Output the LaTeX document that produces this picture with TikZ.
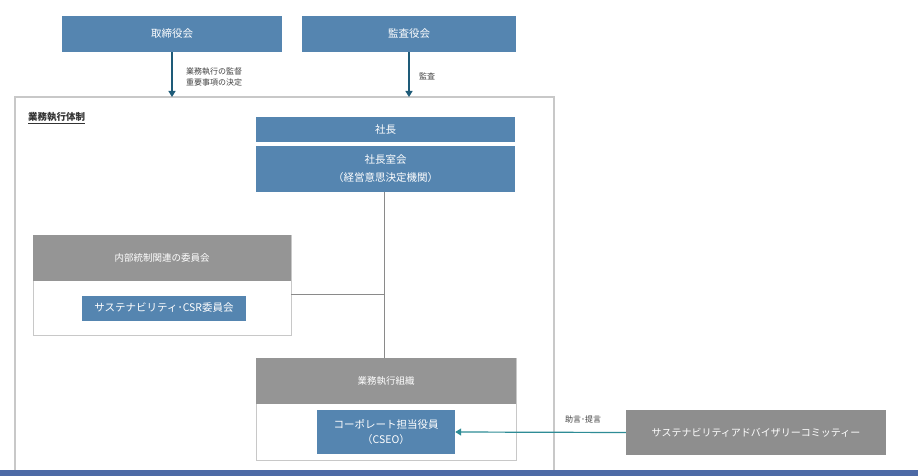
\documentclass[tikz,border=0pt]{standalone}
\usepackage{fontspec}
\setmainfont{Noto Sans CJK JP}
\usetikzlibrary{arrows.meta,positioning}
\definecolor{boxblue}{HTML}{5585B0}
\definecolor{boxgray}{HTML}{8E8E8E}
\definecolor{hdrgray}{HTML}{959595}
\definecolor{frameg}{HTML}{C8C8C8}
\definecolor{lineg}{HTML}{8A8A8A}
\definecolor{arrblue}{HTML}{1E5B78}
\definecolor{arrteal}{HTML}{2E8C96}
\definecolor{barblue}{HTML}{4D6AA6}
\tikzset{
  bluebox/.style={fill=boxblue, text=white, inner sep=0pt, font=\fontsize{10.5}{14}\selectfont, align=center},
  graybox/.style={fill=boxgray, text=white, inner sep=0pt, font=\fontsize{10}{13}\selectfont, align=center},
  hdrbox/.style={fill=hdrgray, text=white, inner sep=0pt, font=\fontsize{9.5}{12}\selectfont, align=center},
  grpbox/.style={draw=frameg, line width=1pt, fill=white, inner sep=0pt},
  smalllbl/.style={font=\fontsize{8}{11}\selectfont, text=black!75, align=left, inner sep=0pt, anchor=west},
  arrtop/.style={draw=arrblue, line width=1.2pt, -{Triangle[length=6pt,width=7pt]}},
  conn/.style={draw=lineg, line width=1pt}
}
\begin{document}
\begin{tikzpicture}[x=1pt,y=-1pt]
\useasboundingbox (0,0) rectangle (918,476);
\fill[white] (0,0) rectangle (918,476);
% frame
\draw[frameg, line width=1.2pt] (15,476) -- (15,97) -- (554,97) -- (554,476);
\node[anchor=west, inner sep=0pt, font=\bfseries\fontsize{9.5}{12}\selectfont, text=black!80] (frlbl) at (28,118) {\underline{業務執行体制}};
% top boxes
\node[bluebox, minimum width=220pt, minimum height=36pt] (tor) at (172,34) {取締役会};
\node[bluebox, minimum width=214pt, minimum height=36pt] (kan) at (409,34) {監査役会};
\coordinate (tor-end) at (172,97);
\coordinate (kan-end) at (409,97);
\draw[arrtop] (tor.south) -- (tor-end);
\draw[arrtop] (kan.south) -- (kan-end);
\node[smalllbl] (lbl1) at (186,77) {業務執行の監督\\重要事項の決定};
\node[smalllbl] (lbl2) at (419,76) {監査};
% president
\node[bluebox, minimum width=259pt, minimum height=25pt] (pres) at (385.5,129.5) {社長};
\node[bluebox, minimum width=259pt, minimum height=46pt, font=\fontsize{10.5}{18}\selectfont] (presc) at (385.5,169) {社長室会\\（経営意思決定機関）};
% internal control group
\node[grpbox, minimum width=258pt, minimum height=100pt] (icg) at (162,285) {};
\node[hdrbox, minimum width=258pt, minimum height=46pt] (ich) at (162,258) {内部統制関連の委員会};
\node[bluebox, minimum width=164pt, minimum height=25pt, font=\fontsize{10.5}{13}\selectfont] (csr) at (164,308) {サステナビリティ･CSR委員会};
% operation group
\node[grpbox, minimum width=260pt, minimum height=102pt] (opg) at (386,409) {};
\node[hdrbox, minimum width=260pt, minimum height=46pt] (oph) at (386,381) {業務執行組織};
\node[bluebox, minimum width=138pt, minimum height=44pt, font=\fontsize{10.5}{15}\selectfont] (cseo) at (386,432) {コーポレート担当役員\\（CSEO）};
% connectors
\coordinate (junc2) at (384,294);
\draw[conn] (384,192) -- (384,358);
\draw[conn] (291,294) -- (junc2);
% advisory
\node[graybox, minimum width=260pt, minimum height=45pt] (adv) at (756,432.5) {サステナビリティアドバイザリーコミッティー};
\draw[draw=arrteal, line width=1.2pt, -{Triangle[length=6pt,width=7pt]}] (adv.west) -- (cseo.east);
\node[smalllbl] (lbl3) at (565,419) {助言･提言};
% bottom bar
\fill[barblue] (0,470) rectangle (918,476);
\end{tikzpicture}
\end{document}
